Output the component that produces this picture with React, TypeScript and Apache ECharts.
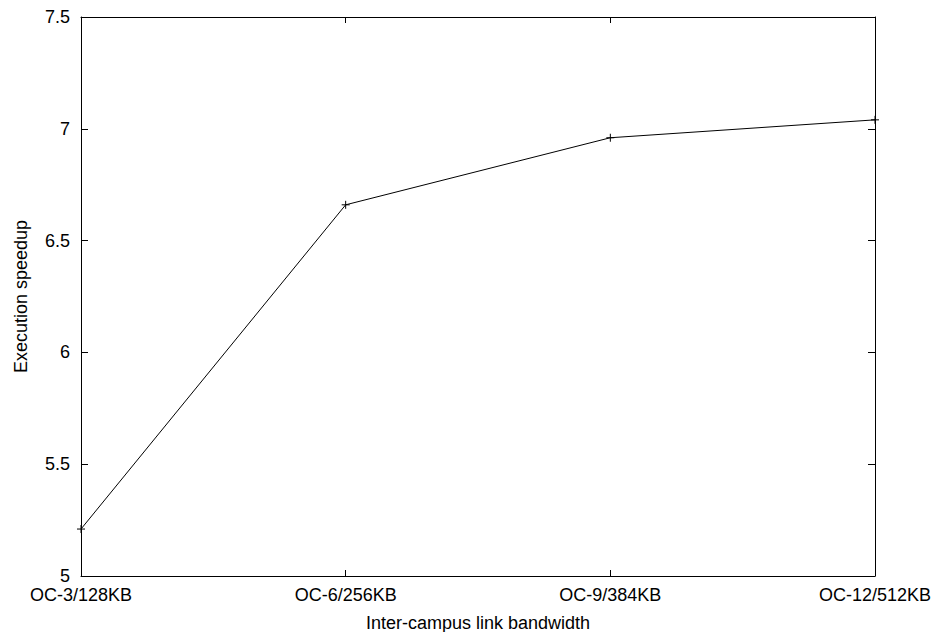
import React, { useEffect, useRef } from "react";
import * as echarts from "echarts";

const categories = ["OC-3/128KB", "OC-6/256KB", "OC-9/384KB", "OC-12/512KB"];
const speedup = [5.21, 6.66, 6.96, 7.04];
const yMin = 5;
const yMax = 7.5;
const yStep = 0.5;

export default function App() {
  const ref = useRef<HTMLDivElement>(null);
  useEffect(() => {
    if (!ref.current) return;
    const chart = echarts.init(ref.current, null, { renderer: "svg" });
    const font = "Liberation Sans, Arial, sans-serif";
    const fs = 18;
    const axisLine = { show: true, onZero: false, lineStyle: { color: "#000", width: 1 } };
    chart.setOption({
      animation: false,
      backgroundColor: "#fff",
      grid: { left: 81, right: 62, top: 17, bottom: 56, containLabel: false, outerBoundsMode: "none" },
      xAxis: [
        {
          type: "category",
          data: categories,
          boundaryGap: false,
          position: "bottom",
          axisLine,
          axisTick: { show: true, inside: true, length: 6, lineStyle: { color: "#000" } },
          axisLabel: { color: "#000", fontSize: fs, fontFamily: font, margin: 10, interval: 0 },
          splitLine: { show: false },
          name: "Inter-campus link bandwidth",
          nameLocation: "middle",
          nameGap: 38,
          nameTextStyle: { color: "#000", fontSize: fs, fontFamily: font },
        },
        {
          type: "category",
          data: categories,
          boundaryGap: false,
          position: "top",
          axisLine,
          axisTick: { show: true, inside: true, length: 6, lineStyle: { color: "#000" } },
          axisLabel: { show: false },
          splitLine: { show: false },
        },
      ],
      yAxis: [
        {
          type: "value",
          min: yMin,
          max: yMax,
          interval: yStep,
          position: "left",
          axisLine,
          axisTick: { show: true, inside: true, length: 7, lineStyle: { color: "#000" } },
          axisLabel: { color: "#000", fontSize: fs, fontFamily: font, margin: 11 },
          splitLine: { show: false },
          name: "Execution speedup",
          nameLocation: "middle",
          nameGap: 51,
          nameTextStyle: { color: "#000", fontSize: fs, fontFamily: font },
        },
        {
          type: "value",
          min: yMin,
          max: yMax,
          interval: yStep,
          position: "right",
          axisLine,
          axisTick: { show: true, inside: true, length: 7, lineStyle: { color: "#000" } },
          axisLabel: { show: false },
          splitLine: { show: false },
        },
      ],
      series: [
        {
          type: "line",
          data: speedup,
          xAxisIndex: 0,
          yAxisIndex: 0,
          symbol: "path://M0,-1 L0,1 M-1,0 L1,0",
          symbolSize: 8,
          showSymbol: true,
          lineStyle: { color: "#000", width: 1 },
          itemStyle: { color: "transparent", borderColor: "#000", borderWidth: 1 },
        },
      ],
    });
    return () => chart.dispose();
  }, []);
  return <div ref={ref} style={{ width: 937, height: 632, position: "absolute", left: 0, top: 0 }} />;
}
